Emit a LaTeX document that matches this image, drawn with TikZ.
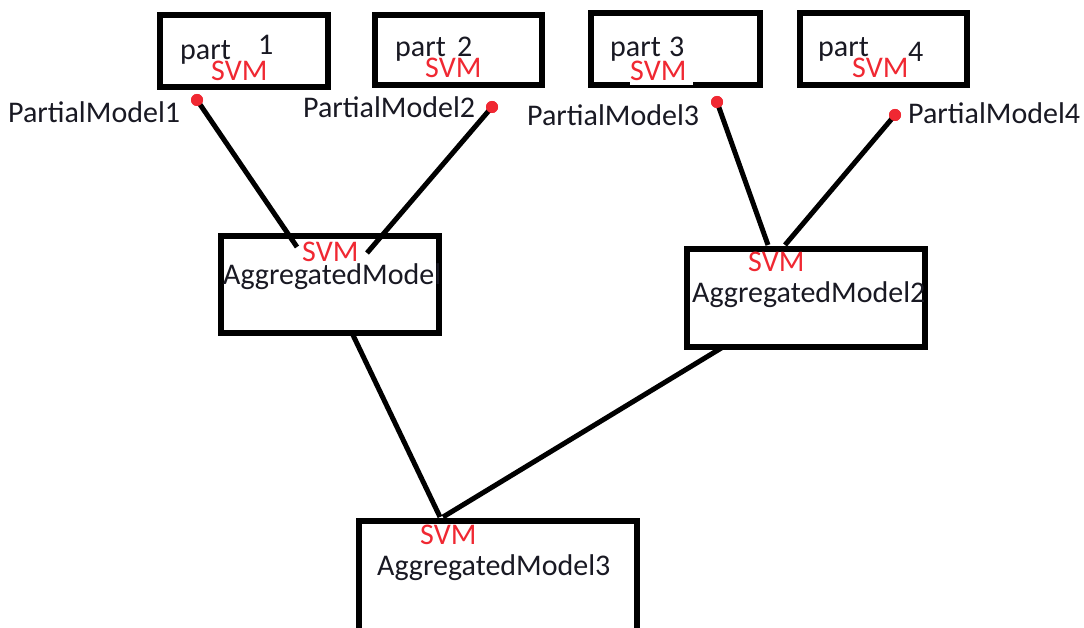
\documentclass[tikz,border=0pt]{standalone}
\usepackage{fontspec}
\setmainfont{Carlito}
\definecolor{svmred}{RGB}{240,40,50}
\definecolor{txt}{RGB}{25,25,35}
\begin{document}
\begin{tikzpicture}[x=1pt,y=-1pt,
  box/.style={draw=black,line width=5.5pt,inner sep=0,fill=none},
  lbl/.style={anchor=base west,inner sep=0,text=txt,font=\fontsize{30}{35}\selectfont},
  svm/.style={anchor=base west,inner sep=0,text=svmred,font=\fontsize{30}{35}\selectfont},
  dot/.style={circle,fill=svmred,inner sep=0,minimum size=12pt},
  conn/.style={line width=5pt,black}]
\useasboundingbox[fill=white] (0,0) rectangle (1084,628);
% top boxes
\node[box,minimum width=168pt,minimum height=72pt] (p1) at (244,51) {};
\node[box,minimum width=167pt,minimum height=70pt] (p2) at (458.5,50) {};
\node[box,minimum width=169pt,minimum height=72pt] (p3) at (675.5,49) {};
\node[box,minimum width=167pt,minimum height=72pt] (p4) at (883.5,49) {};
\fill[white] (630,82.5) rectangle (693,85.5);
% aggregated boxes
\node[box,minimum width=218pt,minimum height=97pt] (a1) at (330,284.5) {};
\node[box,minimum width=238pt,minimum height=98pt] (a2) at (806,298) {};
\node[box,minimum width=278pt,minimum height=116pt] (a3) at (498,579) {};
% texts in top boxes
\node[lbl] (t1) at (180,60) {part};
\node[lbl] (n1) at (258,55) {1};
\node[svm] (s1) at (211,81) {SVM};
\node[lbl] (t2) at (395,57) {part};
\node[lbl] (n2) at (457,57) {2};
\node[svm] (s2) at (425,78) {SVM};
\node[lbl] (t3) at (610,57) {part};
\node[lbl] (n3) at (669,57) {3};
\node[svm] (s3) at (630,81) {SVM};
\node[lbl] (t4) at (818,57) {part};
\node[lbl] (n4) at (908,62) {4};
\node[svm] (s4) at (852,78) {SVM};
% partial model labels
\node[lbl] (m1) at (8,123) {PartialModel1};
\node[lbl] (m2) at (303,118) {PartialModel2};
\node[lbl] (m3) at (527,126) {PartialModel3};
\node[lbl] (m4) at (908,124) {PartialModel4};
% aggregated texts
\node[svm] (as1) at (302,262) {SVM};
\node[lbl] (al1) at (223,285) {AggregatedModel};
\node[svm] (as2) at (748,272) {SVM};
\node[lbl] (al2) at (692,302) {AggregatedModel2};
\node[svm] (as3) at (420,544) {SVM};
\node[lbl] (al3) at (377,575) {AggregatedModel3};
% connector end points
\coordinate (e1) at (297,247);
\coordinate (e2) at (367,253);
\coordinate (e3) at (768,245);
\coordinate (e4) at (785,245);
\coordinate (b1) at (352,333);
\coordinate (b2) at (723,347);
\coordinate (c1) at (440,517);
\coordinate (c2) at (443,517);
% dots
\node[dot] (d1) at (197,100) {};
\node[dot] (d2) at (492,107) {};
\node[dot] (d3) at (717,102) {};
\node[dot] (d4) at (895,115) {};
% connectors
\draw[conn] (d1.center) -- (e1);
\draw[conn] (d2.center) -- (e2);
\draw[conn] (d3.center) -- (e3);
\draw[conn] (d4.center) -- (e4);
\draw[conn] (b1) -- (c1);
\draw[conn] (b2) -- (c2);
% redraw dots on top
\node[dot] at (d1) {};
\node[dot] at (d2) {};
\node[dot] at (d3) {};
\node[dot] at (d4) {};
\end{tikzpicture}
\end{document}
